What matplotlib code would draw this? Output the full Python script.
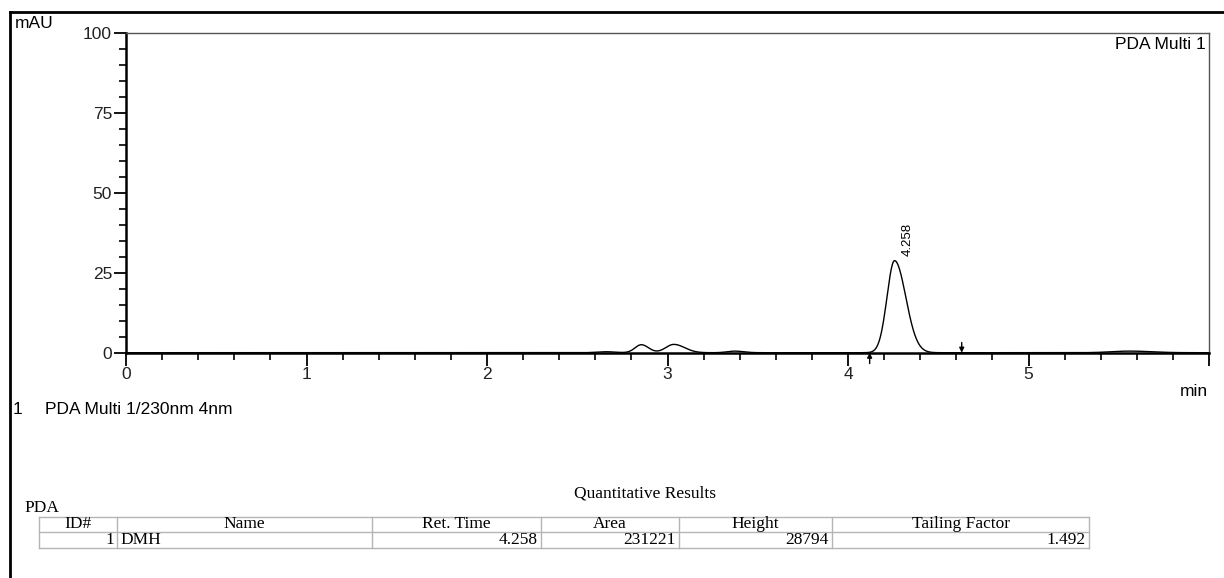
import numpy as np
import matplotlib
matplotlib.use("Agg")
import matplotlib.pyplot as plt
from matplotlib.lines import Line2D
from matplotlib.ticker import MultipleLocator

# peaks (min, mAU)
PEAK_RT = [2.66, 2.855, 3.035, 3.37, 4.258, 5.56]
PEAK_HEIGHT = [0.3, 2.5, 2.6, 0.5, 28.794, 0.5]
PEAK_SIGMA_L = [0.05, 0.035, 0.045, 0.04, 0.042, 0.10]
PEAK_SIGMA_R = [0.05, 0.04, 0.06, 0.05, 0.062, 0.12]

MARK_START = 4.12
MARK_END = 4.63

TABLE_HEADER = ["ID#", "Name", "Ret. Time", "Area", "Height", "Tailing Factor"]
TABLE_ROW = ["1", "DMH", "4.258", "231221", "28794", "1.492"]

W, H = 1224, 578
SANS = "Liberation Sans"
SERIF = "Liberation Serif"
FS = 12.5


def fx(x):
    return x / W


def fy(y):
    return 1 - y / H


def trace(t):
    y = np.zeros_like(t)
    for rt, h, sl, sr in zip(PEAK_RT, PEAK_HEIGHT, PEAK_SIGMA_L, PEAK_SIGMA_R):
        s = np.where(t < rt, sl, sr)
        y += h * np.exp(-0.5 * ((t - rt) / s) ** 2)
    return y


fig = plt.figure(figsize=(W / 100, H / 100), dpi=100)

# page frame
fig.add_artist(Line2D([fx(10), fx(10)], [0, fy(12)], color="black", lw=2))
fig.add_artist(Line2D([fx(10), 1], [fy(12), fy(12)], color="black", lw=2))

ax = fig.add_axes([fx(126), fy(352.7), fx(1209 - 126), (352.7 - 33) / H])
t = np.linspace(0, 6, 3000)
ax.plot(t, trace(t), color="black", lw=1.0)
ax.set_xlim(0, 6)
ax.set_ylim(0, 100)

for side in ["left", "bottom"]:
    ax.spines[side].set_linewidth(1.8)
for side in ["top", "right"]:
    ax.spines[side].set_linewidth(1.0)
    ax.spines[side].set_color("#555555")

ax.xaxis.set_major_locator(MultipleLocator(1))
ax.xaxis.set_minor_locator(MultipleLocator(0.2))
ax.yaxis.set_major_locator(MultipleLocator(25))
ax.yaxis.set_minor_locator(MultipleLocator(5))
ax.set_xticks(range(7))
ax.set_xticklabels(["0", "1", "2", "3", "4", "5", ""])
ax.tick_params(axis="both", which="major", direction="out", length=9, width=1.3,
               labelsize=FS, pad=1)
ax.tick_params(axis="both", which="minor", direction="out", length=5, width=1.2)
for lab in ax.get_xticklabels() + ax.get_yticklabels():
    lab.set_fontfamily(SANS)
    lab.set_color("#222222")

# integration marks
arrow = dict(arrowstyle="-|>", color="black", lw=1.0, mutation_scale=7,
             shrinkA=0, shrinkB=0)
ax.annotate("", xy=(MARK_START, 0.0), xytext=(MARK_START, -3.4),
            arrowprops=arrow, annotation_clip=False)
ax.annotate("", xy=(MARK_END, 0.0), xytext=(MARK_END, 3.2),
            arrowprops=arrow, annotation_clip=False)

ax.text(PEAK_RT[4] + 0.04, PEAK_HEIGHT[4] + 1.5, "4.258", rotation=90, ha="left",
        va="bottom", fontsize=9.5, family=SANS)
ax.text(0.997, 0.988, "PDA Multi 1", transform=ax.transAxes, ha="right", va="top",
        fontsize=FS, family=SANS)

fig.text(fx(15), fy(24), "mAU", fontsize=FS, family=SANS, va="center")
fig.text(fx(1208), fy(391), "min", fontsize=FS, family=SANS, va="center", ha="right")
fig.text(fx(13), fy(409), "1", fontsize=FS, family=SANS, va="center")
fig.text(fx(45), fy(409), "PDA Multi 1/230nm 4nm", fontsize=FS, family=SANS, va="center")

# results table
fig.text(fx(645), fy(493), "Quantitative Results", fontsize=FS, family=SERIF,
         ha="center", va="center")
fig.text(fx(24), fy(508), "PDA", fontsize=FS, family=SERIF, va="center")

cols = [39, 117, 372, 541, 679, 832, 1089]
rows = [517, 532, 548]
grid = "#b5b5b5"
for y in rows:
    fig.add_artist(Line2D([fx(cols[0]), fx(cols[-1])], [fy(y), fy(y)], color=grid, lw=1))
for x in cols:
    fig.add_artist(Line2D([fx(x), fx(x)], [fy(rows[0]), fy(rows[-1])], color=grid, lw=1))

for i, name in enumerate(TABLE_HEADER):
    fig.text(fx((cols[i] + cols[i + 1]) / 2), fy(524.5), name, fontsize=FS,
             family=SERIF, ha="center", va="center")
for i, val in enumerate(TABLE_ROW):
    if i == 1:
        fig.text(fx(cols[i] + 3), fy(540), val, fontsize=FS, family=SERIF,
                 ha="left", va="center")
    else:
        fig.text(fx(cols[i + 1] - 3), fy(540), val, fontsize=FS, family=SERIF,
                 ha="right", va="center")

fig.savefig("out.png", dpi=100)
